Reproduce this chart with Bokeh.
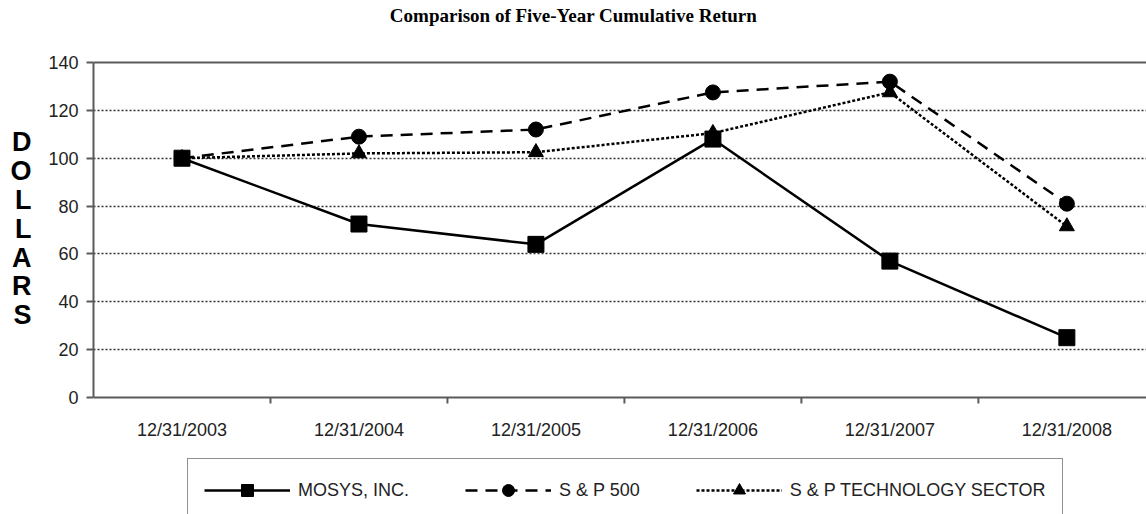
from bokeh.plotting import figure
from bokeh.models import (Range1d, FixedTicker, Legend, LegendItem, Span, Label)
from bokeh.core.properties import value
from bokeh.embed import file_html
from bokeh.resources import INLINE

dates = ["12/31/2003", "12/31/2004", "12/31/2005", "12/31/2006", "12/31/2007", "12/31/2008"]
mosys = [100, 72.5, 64, 108, 57, 25]
sp500 = [100, 109, 112, 127.5, 132, 81]
sptech = [100, 102, 102.5, 110.5, 127.5, 71.5]
y_ticks = [0, 20, 40, 60, 80, 100, 120, 140]
title_text = "Comparison of Five-Year Cumulative Return"
ylabel_text = "DOLLARS"

xs = list(range(len(dates)))
boundaries = [i + 0.5 for i in xs[:-1]]

# layout constants (pixels)
W, H = 1146, 514
FRAME_LEFT = 93
Y0_PX, Y140_PX = 397, 62          # page rows of value 0 and 140
K = (Y0_PX - Y140_PX) / 140.0     # px per unit
Y_START = -(H - Y0_PX) / K
Y_END = 140 + Y140_PX / K

p = figure(width=W, height=H, output_backend="svg", toolbar_location=None,
           x_axis_location=None,
           x_range=Range1d(-0.5, 5.45), y_range=Range1d(Y_START, Y_END),
           min_border_left=FRAME_LEFT, min_border_right=0, min_border_top=0, min_border_bottom=0)
p.outline_line_color = None
p.background_fill_color = "white"
p.border_fill_color = "white"

FONT = "Liberation Sans"
AX = "#5a5a5a"

# y axis
p.yaxis.bounds = (0, 140)
p.yaxis.ticker = FixedTicker(ticks=y_ticks)
p.yaxis.axis_line_color = AX
p.yaxis.axis_line_width = 2
p.yaxis.major_tick_line_color = AX
p.yaxis.major_tick_line_width = 2
p.yaxis.major_tick_out = 7
p.yaxis.major_tick_in = 0
p.yaxis.minor_tick_line_color = None
p.yaxis.major_label_text_font = FONT
p.yaxis.major_label_text_font_size = "18px"
p.yaxis.major_label_text_color = "#222222"
p.yaxis.major_label_standoff = 8
# trailing blank lines lift the stacked letters up toward the reference position
p.yaxis.axis_label = "\n".join(ylabel_text) + "\n \n "
p.yaxis.axis_label_orientation = "horizontal"
p.yaxis.axis_label_text_font = FONT
p.yaxis.axis_label_text_font_style = "bold"
p.yaxis.axis_label_text_font_size = "27px"
p.yaxis.axis_label_text_line_height = 0.96
p.yaxis.axis_label_text_color = "black"
p.yaxis.axis_label_standoff = 14

# grid
p.xgrid.grid_line_color = None
p.ygrid.ticker = FixedTicker(ticks=y_ticks[1:-1])
p.ygrid.grid_line_color = "#333333"
p.ygrid.grid_line_width = 1.5
p.ygrid.grid_line_dash = "2 2"
p.add_layout(Span(location=y_ticks[-1], dimension="width", line_color=AX, line_width=2))

# x axis drawn in the frame
p.add_layout(Span(location=y_ticks[0], dimension="width", line_color=AX, line_width=2))
p.segment(x0=boundaries, y0=[0] * len(boundaries), x1=boundaries, y1=[-6 / K] * len(boundaries),
          line_color=AX, line_width=2)
p.text(x=xs, y=[-(429 - Y0_PX) / K] * len(xs), text=dates, text_align="center",
       text_baseline="middle", text_font=value(FONT), text_font_size="18px", text_color="#222222")

# series
l1 = p.line(xs, mosys, line_color="black", line_width=2.5)
m1 = p.scatter(xs, mosys, marker="square", size=16, fill_color="black", line_color="black")
l2 = p.line(xs, sp500, line_color="black", line_width=2.5, line_dash="12 8")
m2 = p.scatter(xs, sp500, marker="circle", size=15, fill_color="black", line_color="black")
l3 = p.line(xs, sptech, line_color="black", line_width=2.5, line_dash="3 2")
m3 = p.scatter(xs, sptech, marker="triangle", size=15, fill_color="black", line_color="black")

legend = Legend(items=[
    LegendItem(label="MOSYS, INC.", renderers=[l1, m1]),
    LegendItem(label="S & P 500", renderers=[l2, m2]),
    LegendItem(label="S & P TECHNOLOGY SECTOR", renderers=[l3, m3]),
], orientation="horizontal", location=(187 - FRAME_LEFT, -8),
    glyph_width=86, glyph_height=30, label_standoff=8, spacing=56, padding=16, margin=0,
    border_line_color="#222222", border_line_width=1.5,
    label_text_font=FONT, label_text_font_size="18px", label_text_color="#222222",
    background_fill_color="white", background_fill_alpha=1)
p.add_layout(legend, "center")

# title
p.add_layout(Label(x=573 - FRAME_LEFT, y=H - 15, x_units="screen", y_units="screen", text=title_text,
                   text_align="center", text_baseline="middle", text_font="Liberation Serif",
                   text_font_style="bold", text_font_size="19px", text_color="black"))

open("out.html", "w").write(file_html(p, INLINE))
